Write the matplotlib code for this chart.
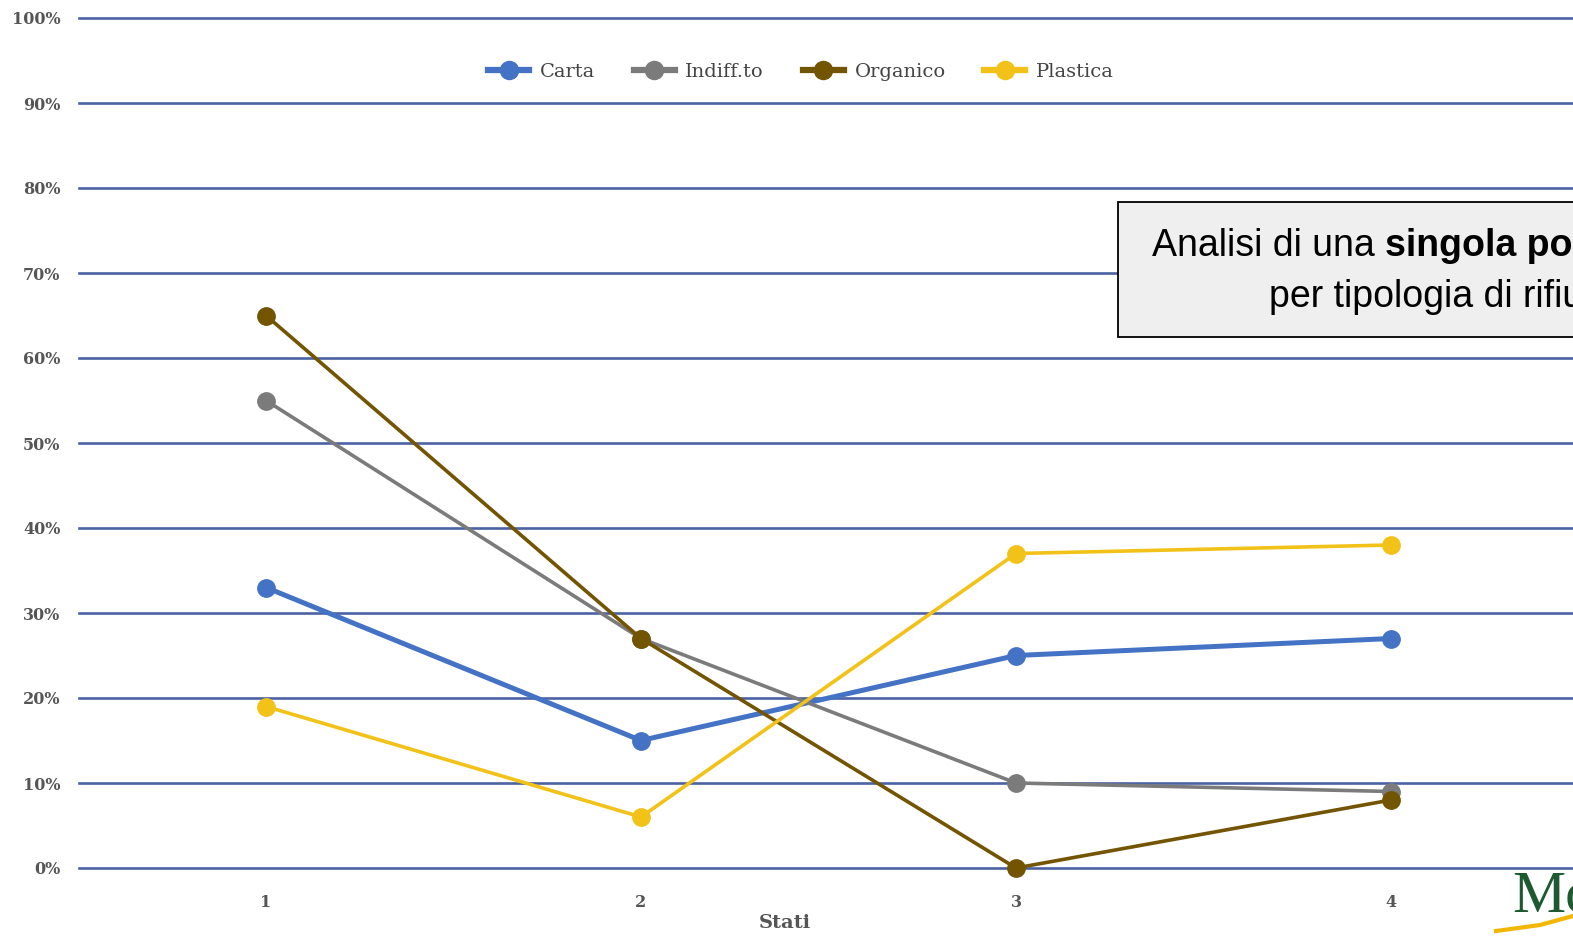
import matplotlib
matplotlib.use("Agg")
import matplotlib.pyplot as plt
from matplotlib.patches import Rectangle
from matplotlib.lines import Line2D

stati = [1, 2, 3, 4]
carta = [33, 15, 25, 27]
indiff = [55, 27, 10, 9]
organico = [65, 27, 0, 8]
plastica = [19, 6, 37, 38]
series_names = ["Carta", "Indiff.to", "Organico", "Plastica"]
y_ticks = list(range(0, 101, 10))
y_labels = [f"{v}%" for v in y_ticks]

W, H = 1573, 936
fig = plt.figure(figsize=(W / 100, H / 100), dpi=100)
fig.patch.set_facecolor("white")
ax = fig.add_axes([78.5 / W, (H - 868) / H, (1578.5 - 78.5) / W, (868 - 18) / H])
ax.set_xlim(0.5, 4.5)
ax.set_ylim(0, 100)

for v in y_ticks:
    ax.axhline(v, color="#4b63a3", lw=1.9, zorder=1, clip_on=False)

colors = ["#4472C4", "#7b7b7b", "#735400", "#F2C218"]
widths = [3.6, 2.6, 2.6, 2.6]
data = [carta, indiff, organico, plastica]
for name, vals, c, lw in zip(series_names, data, colors, widths):
    ax.plot(stati, vals, color=c, lw=lw, marker="o", ms=12.5, label=name,
            zorder=3, clip_on=False)

for s in ax.spines.values():
    s.set_visible(False)
ax.set_yticks(y_ticks)
ax.set_yticklabels(y_labels)
ax.set_xticks(stati)
ax.set_xticklabels([str(s) for s in stati])
ax.tick_params(length=0)
ax.tick_params(axis="y", pad=13)
ax.tick_params(axis="x", pad=19)
for lab in ax.get_yticklabels() + ax.get_xticklabels():
    lab.set_fontfamily("DejaVu Serif")
    lab.set_fontweight("bold")
    lab.set_fontsize(11.5)
    lab.set_color("#555555")
ax.set_xlabel("Stati", fontfamily="DejaVu Serif", fontweight="bold",
              fontsize=14, color="#555555")
ax.xaxis.set_label_coords(785 / W, (H - 923) / H, transform=fig.transFigure)
ax.xaxis.label.set_va("center")

leg = ax.legend(loc="center", bbox_to_anchor=(801 / W, (H - 72) / H),
                bbox_transform=fig.transFigure, ncol=4, frameon=False,
                prop={"family": "DejaVu Serif", "size": 14},
                handlelength=2.1, columnspacing=2.0, handletextpad=0.55)
for t in leg.get_texts():
    t.set_color("#444444")
for h in leg.legend_handles:
    h.set_linewidth(4.5)
    h.set_markersize(13)

# annotation box
fig.patches.append(Rectangle((1118 / W, (H - 337) / H), 0.5, (337 - 202) / H,
                             transform=fig.transFigure, facecolor="#efefef",
                             edgecolor="black", lw=1.3, zorder=5))
t1 = fig.text(1152 / W, (H - 256) / H, "Analisi di una ", fontsize=27,
              family="Liberation Sans", va="baseline", ha="left", zorder=6)
fig.canvas.draw()
r = fig.canvas.get_renderer()
bb = t1.get_window_extent(r)
fig.text(bb.x1 / W, (H - 256) / H, "singola postazione", fontsize=27,
         family="Liberation Sans", fontweight="bold", va="baseline", ha="left", zorder=6)
fig.text(1269 / W, (H - 307) / H, "per tipologia di rifiuti", fontsize=27,
         family="Liberation Sans", va="baseline", ha="left", zorder=6)

# logo fragment
fig.text(1512 / W, (H - 912) / H, "Mo", fontsize=43, family="Liberation Serif",
         color="#1d5a30", va="baseline", ha="left")
fig.add_artist(Line2D([1496 / W, 1540 / W, 1573 / W],
                      [(H - 931) / H, (H - 925) / H, (H - 916) / H],
                      transform=fig.transFigure, color="#f2b705", lw=3))

fig.savefig("out.png", dpi=100)
